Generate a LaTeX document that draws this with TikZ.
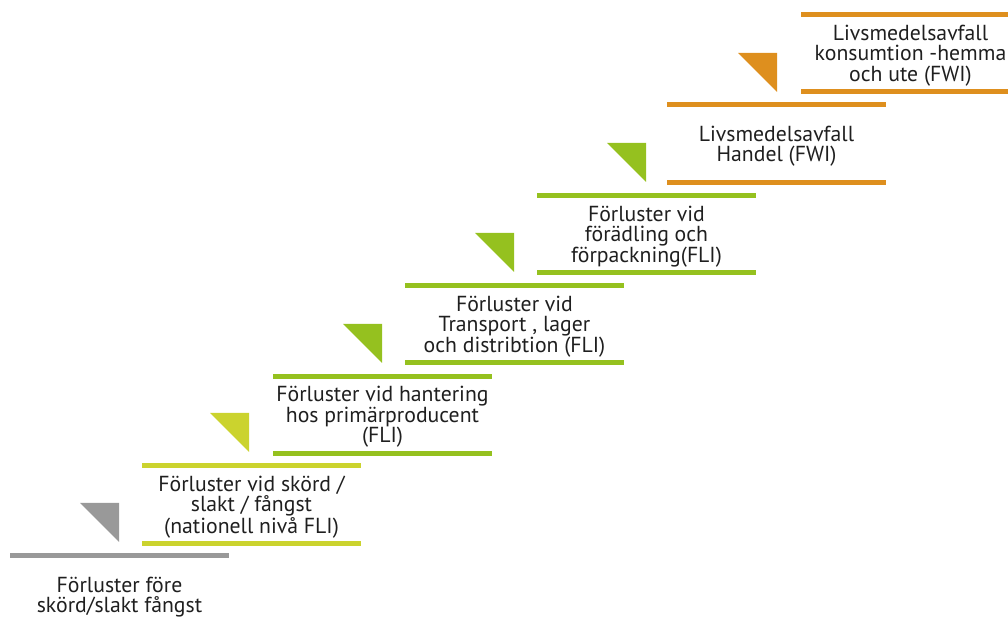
\documentclass[tikz,border=0pt]{standalone}
\usepackage{fontspec}
\setmainfont{PT Sans}
\definecolor{stone}{HTML}{999999}
\definecolor{lime}{HTML}{CBD32E}
\definecolor{leaf}{HTML}{95C11F}
\definecolor{amber}{HTML}{DE8F1E}
\tikzset{
  bar/.style={line width=3.75pt},
  wedge/.style={fill=#1, draw=none},
  lbl/.style={font=\fontsize{16.3}{15.4}\selectfont, align=center, text=black!88, inner sep=0pt},
}
% one wedge: right corner x, bottom y (pixel units)
\newcommand{\wedgeat}[3]{\fill[wedge=#3] (#1-39,#2-39) -- (#1,#2-39) -- (#1,#2) -- cycle;}
\begin{document}
\begin{tikzpicture}[x=0.75pt,y=-0.75pt]
\useasboundingbox (0,0) rectangle (1008,630);
\clip (0,0) rectangle (1008,630);

% step 0: before harvest
\draw[bar,stone] (10,556) -- (229,556);
\wedgeat{119}{542}{stone}
\node[lbl] (s0) at (119.5,597) {Förluster före\\skörd/slakt fångst};

% step 1: harvest
\draw[bar,lime] (142,466) -- (361,466);
\draw[bar,lime] (142,544) -- (361,544);
\wedgeat{249}{452}{lime}
\node[lbl] (s1) at (251.5,507) {Förluster vid skörd /\\slakt / fångst\\(nationell nivå FLI)};

% step 2: primary production
\draw[bar,leaf] (273,377) -- (492,377);
\draw[bar,leaf] (273,454) -- (492,454);
\wedgeat{382}{363}{leaf}
\node[lbl] (s2) at (382.5,417) {Förluster vid hantering\\hos primärproducent\\(FLI)};

% step 3: transport
\draw[bar,leaf] (405,286) -- (624,286);
\draw[bar,leaf] (405,363) -- (624,363);
\wedgeat{514}{272}{leaf}
\node[lbl] (s3) at (514.5,326.5) {Förluster vid\\Transport , lager\\och distribtion (FLI)};

% step 4: processing
\draw[bar,leaf] (537,196) -- (756,196);
\draw[bar,leaf] (537,273) -- (756,273);
\wedgeat{646}{182}{leaf}
\node[lbl] (s4) at (646.5,236.5) {Förluster vid\\förädling och\\förpackning(FLI)};

% step 5: retail
\draw[bar,amber] (667,105) -- (886,105);
\draw[bar,amber] (667,183) -- (886,183);
\wedgeat{777}{92}{amber}
\node[lbl] (s5) at (776.5,146) {Livsmedelsavfall\\Handel (FWI)};

% step 6: consumption
\draw[bar,amber] (801,15) -- (1020,15);
\draw[bar,amber] (801,92) -- (1020,92);
\node[lbl] (s6) at (910.5,55.5) {Livsmedelsavfall\\konsumtion -hemma\\och ute (FWI)};
\end{tikzpicture}
\end{document}
